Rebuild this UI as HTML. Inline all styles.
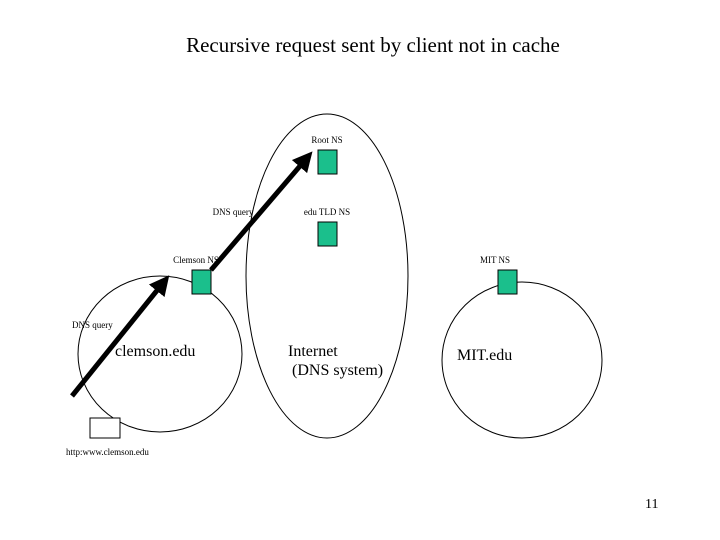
<!DOCTYPE html>
<html><head><style>
body{margin:0;background:#fff;}
svg{display:block;}
text{font-family:"Liberation Serif",serif;fill:#000;}
</style></head><body>
<svg width="720" height="540" viewBox="0 0 720 540">
<defs><marker id="ah" markerWidth="4" markerHeight="4" refX="2" refY="2" orient="auto"><path d="M0,0 L4,2 L0,4 Z" fill="#000"/></marker></defs>
<text x="373" y="52" font-size="21" text-anchor="middle">Recursive request sent by client  not in cache</text>
<ellipse cx="327" cy="276" rx="81" ry="162" fill="none" stroke="#000" stroke-width="1"/>
<ellipse cx="160" cy="354" rx="82" ry="78" fill="none" stroke="#000" stroke-width="1"/>
<ellipse cx="522" cy="360" rx="80" ry="78" fill="none" stroke="#000" stroke-width="1"/>
<rect x="318" y="150" width="19" height="24" fill="#1bbf8c" stroke="#000"/>
<rect x="318" y="222" width="19" height="24" fill="#1bbf8c" stroke="#000"/>
<rect x="192" y="270" width="19" height="24" fill="#1bbf8c" stroke="#000"/>
<rect x="498" y="270" width="19" height="24" fill="#1bbf8c" stroke="#000"/>
<rect x="90" y="418" width="30" height="20" fill="#fff" stroke="#000"/>
<line x1="72" y1="396" x2="163" y2="283" stroke="#000" stroke-width="5" marker-end="url(#ah)"/>
<line x1="211" y1="270" x2="306" y2="159" stroke="#000" stroke-width="5" marker-end="url(#ah)"/>
<text x="327" y="143" font-size="9" text-anchor="middle">Root NS</text>
<text x="327" y="215" font-size="9" text-anchor="middle">edu TLD NS</text>
<text x="233" y="215" font-size="9" text-anchor="middle">DNS query</text>
<text x="196" y="263" font-size="9" text-anchor="middle">Clemson NS</text>
<text x="495" y="263" font-size="9" text-anchor="middle">MIT NS</text>
<text x="72" y="328" font-size="9">DNS query</text>
<text x="115" y="356" font-size="16">clemson.edu</text>
<text x="288" y="356" font-size="16">Internet</text>
<text x="292" y="375" font-size="16">(DNS system)</text>
<text x="457" y="360" font-size="16">MIT.edu</text>
<text x="66" y="455" font-size="9">http:www.clemson.edu</text>
<text x="645" y="508" font-size="14">11</text>
</svg>
</body></html>
